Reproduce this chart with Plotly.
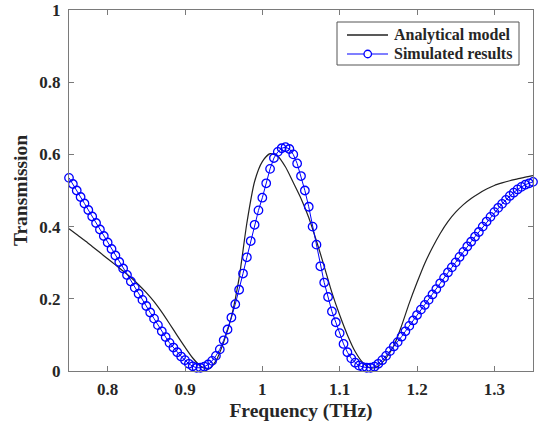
import numpy as np
import plotly.graph_objects as go

# Simulated results (markers), frequency grid 0.75..1.35 THz, step 0.005
sim_freq = np.round(np.linspace(0.75, 1.35, 121), 3)
sim_T = [
    0.535, 0.518, 0.500, 0.482, 0.464, 0.446, 0.428, 0.410, 0.392, 0.374,
    0.356, 0.338, 0.320, 0.302, 0.284, 0.266, 0.248, 0.231, 0.214, 0.197,
    0.180, 0.162, 0.145, 0.127, 0.110, 0.094, 0.078, 0.065, 0.052, 0.040,
    0.030, 0.020, 0.013, 0.009, 0.009, 0.012, 0.018, 0.028, 0.042, 0.060,
    0.085, 0.115, 0.148, 0.185, 0.225, 0.270, 0.315, 0.360, 0.405, 0.445,
    0.480, 0.520, 0.560, 0.590, 0.607, 0.617, 0.620, 0.615, 0.600, 0.575,
    0.540, 0.500, 0.455, 0.400, 0.350, 0.290, 0.245, 0.205, 0.165, 0.135,
    0.105, 0.075, 0.052, 0.035, 0.023, 0.015, 0.011, 0.009, 0.009, 0.012,
    0.020, 0.030, 0.042, 0.055, 0.068, 0.080, 0.095, 0.110, 0.125, 0.140,
    0.155, 0.170, 0.183, 0.197, 0.212, 0.227, 0.243, 0.258, 0.273, 0.287,
    0.301, 0.316, 0.330, 0.345, 0.358, 0.372, 0.385, 0.400, 0.414, 0.427,
    0.440, 0.452, 0.463, 0.474, 0.485, 0.494, 0.503, 0.510, 0.516, 0.520,
    0.524,
]

# Analytical model (line), frequency grid step 0.01
ana_freq = np.round(np.linspace(0.75, 1.35, 61), 3)
ana_T = [
    0.394, 0.378, 0.362, 0.345, 0.328, 0.311, 0.294, 0.277, 0.259, 0.239,
    0.217, 0.192, 0.163, 0.131, 0.098, 0.066, 0.036, 0.014, 0.005, 0.028,
    0.080, 0.150, 0.258, 0.410, 0.525, 0.580, 0.602, 0.595, 0.565, 0.522,
    0.478, 0.425, 0.360, 0.290, 0.217, 0.155, 0.100, 0.054, 0.023, 0.008,
    0.014, 0.036, 0.070, 0.125, 0.188, 0.245, 0.298, 0.342, 0.381, 0.414,
    0.440, 0.461, 0.478, 0.492, 0.504, 0.514, 0.521, 0.527, 0.532, 0.537,
    0.541,
]

series_names = ["Analytical model", "Simulated results"]

x_tickvals = [0.8, 0.9, 1.0, 1.1, 1.2, 1.3]
x_ticktext = ["0.8", "0.9", "1", "1.1", "1.2", "1.3"]
y_tickvals = [0, 0.2, 0.4, 0.6, 0.8, 1.0]
y_ticktext = ["0", "0.2", "0.4", "0.6", "0.8", "1"]

FONT = "Liberation Serif, Times New Roman, serif"
TXT = "#262626"
AX = "#7a7a7a"
BLACK = "#222222"
BLUE = "#0000ff"

W, H = 546, 425
ML, MR, MT, MB = 69, 13, 10, 54
PW, PH = W - ML - MR, H - MT - MB


def px_x(p):
    return (p - ML) / PW


def px_y(p):
    return (H - MB - p) / PH


fig = go.Figure()
fig.add_trace(go.Scatter(
    x=ana_freq, y=ana_T, mode="lines", name=series_names[0],
    line=dict(color=BLACK, width=1.2, shape="spline", smoothing=0.7),
    showlegend=False,
))
fig.add_trace(go.Scatter(
    x=sim_freq, y=sim_T, mode="lines+markers", name=series_names[1],
    line=dict(color=BLUE, width=1),
    marker=dict(symbol="circle-open", size=8.5, color=BLUE,
                line=dict(width=1.3, color=BLUE)),
    cliponaxis=False, showlegend=False,
))

axis_common = dict(
    showline=True, linecolor=AX, linewidth=1, mirror="ticks",
    ticks="inside", ticklen=5, tickcolor=AX, tickwidth=1,
    showgrid=False, zeroline=False, automargin=False,
    ticklabeloverflow="allow",
    tickfont=dict(family=FONT, size=17, color=TXT, weight="bold"),
)

# Legend box (drawn as shapes + text so its size matches the reference)
LT, LB = 22, 65
R1, R2 = 35, 54
shapes = [
    dict(type="rect", xref="paper", yref="paper",
         x0=px_x(337), x1=px_x(519), y0=px_y(LB), y1=px_y(LT),
         line=dict(color="#555555", width=1), fillcolor="white", layer="above"),
    dict(type="line", xref="paper", yref="paper",
         x0=px_x(347), x1=px_x(388), y0=px_y(R1), y1=px_y(R1),
         line=dict(color=BLACK, width=1.3), layer="above"),
    dict(type="line", xref="paper", yref="paper",
         x0=px_x(347), x1=px_x(388), y0=px_y(R2), y1=px_y(R2),
         line=dict(color=BLUE, width=1.2), layer="above"),
    dict(type="circle", xref="paper", yref="paper",
         x0=px_x(364), x1=px_x(371.5), y0=px_y(R2 + 3.75), y1=px_y(R2 - 3.75),
         line=dict(color=BLUE, width=1.3), fillcolor="white", layer="above"),
]
annotations = [
    dict(text=series_names[0], xref="paper", yref="paper",
         x=px_x(392), y=px_y(R1), xanchor="left", yanchor="middle",
         showarrow=False,
         font=dict(family=FONT, size=16, color=TXT, weight="bold")),
    dict(text=series_names[1], xref="paper", yref="paper",
         x=px_x(392), y=px_y(R2), xanchor="left", yanchor="middle",
         showarrow=False,
         font=dict(family=FONT, size=16, color=TXT, weight="bold")),
]

fig.update_layout(
    width=W, height=H,
    margin=dict(l=ML, r=MR, t=MT, b=MB),
    paper_bgcolor="white", plot_bgcolor="white",
    font=dict(family=FONT, color=TXT),
    xaxis=dict(range=[0.75, 1.35], tickvals=x_tickvals, ticktext=x_ticktext,
               ticklabelstandoff=3,
               title=dict(text="Frequency (THz)", standoff=4,
                          font=dict(family=FONT, size=19.5, color=TXT, weight="bold")),
               **axis_common),
    yaxis=dict(range=[0, 1], tickvals=y_tickvals, ticktext=y_ticktext,
               ticklabelstandoff=4,
               title=dict(text="Transmission", standoff=6,
                          font=dict(family=FONT, size=19.5, color=TXT, weight="bold")),
               **axis_common),
    shapes=shapes,
    annotations=annotations,
    showlegend=False,
)

fig.write_html(
    "out.html",
    config={"displayModeBar": False},
    post_script="document.body.style.margin='0';document.body.style.padding='0';",
)
